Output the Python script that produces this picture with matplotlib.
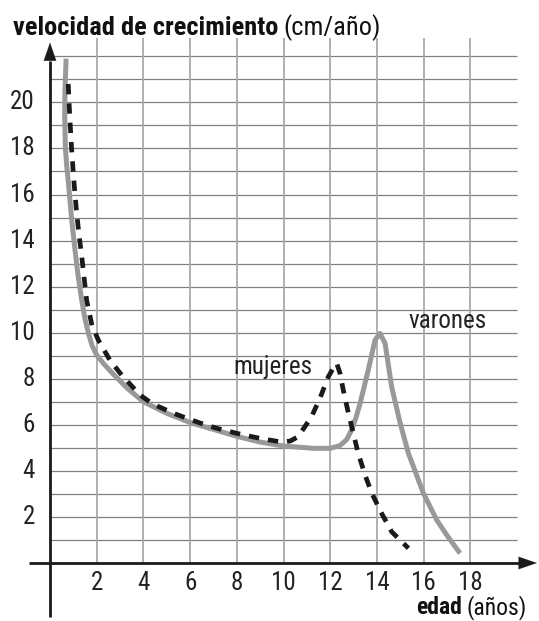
import numpy as np
import matplotlib.pyplot as plt

plt.rcParams['font.family'] = ['DejaVu Sans Condensed', 'Roboto Condensed',
                               'Open Sans Condensed', 'DejaVu Sans']

# Growth velocity (cm/year) against age (years)
varones_edad = [0.69, 0.64, 0.63, 0.66, 0.72, 0.79, 0.92, 1.07, 1.2, 1.36, 1.5, 1.64,
                1.8, 2.0, 2.3, 2.71, 3.3, 4.0, 5.0, 6.0, 7.0, 8.0, 9.0, 10.0,
                11.28, 12.0, 12.42, 12.7, 12.92, 13.1, 13.28, 13.63, 13.92, 14.13,
                14.35, 14.63, 14.99, 15.35, 15.56, 15.99, 16.3, 16.56, 17.0, 17.56]
varones_vel = [21.9, 20.5, 19.4, 18.0, 17.2, 16.5, 15.0, 13.6, 12.5, 11.4, 10.6, 10.0,
               9.45, 9.03, 8.65, 8.2, 7.6, 7.0, 6.5, 6.1, 5.8, 5.5, 5.25, 5.08,
               4.98, 4.98, 5.1, 5.35, 5.78, 6.3, 6.93, 8.38, 9.68, 9.97,
               9.54, 7.66, 6.1, 4.76, 4.2, 3.03, 2.4, 1.87, 1.2, 0.42]

mujeres_edad = [0.78, 0.85, 0.93, 1.03, 1.14, 1.25, 1.36, 1.57, 1.8, 2.07, 2.57, 3.07,
                3.85, 4.4, 5.42, 6.42, 7.14, 8.0, 9.0, 9.92, 10.3, 10.63, 11.2, 11.56,
                11.92, 12.15, 12.28, 12.42, 12.56, 12.78, 12.99, 13.2, 13.5, 13.78,
                14.2, 14.63, 15.35]
mujeres_vel = [20.8, 19.3, 17.9, 16.5, 15.2, 14.2, 13.3, 11.4, 10.3, 9.68, 8.8, 8.16,
               7.3, 6.9, 6.45, 6.08, 5.85, 5.63, 5.41, 5.25, 5.3, 5.49, 6.35, 7.15,
               8.09, 8.5, 8.67, 8.24, 7.51, 6.5, 5.63, 4.76, 3.8, 3.03,
               2.16, 1.36, 0.64]

x_ticks = [2, 4, 6, 8, 10, 12, 14, 16, 18]
y_ticks = [2, 4, 6, 8, 10, 12, 14, 16, 18, 20]
grid_x = [2, 4, 6, 8, 10, 12, 14, 16, 18]
grid_y = list(range(1, 23))

W, H = 539, 621
fig = plt.figure(figsize=(W / 100, H / 100), dpi=100)
ax = fig.add_axes([0, 0, 1, 1])

# pixel layout: origin at (50, 563) from top-left, 23.35 px per year, 23.03 px per cm/year
px_x, px_y = 23.35, 23.03
ax.set_xlim(-50 / px_x, (W - 50) / px_x)
ax.set_ylim(-(H - 563) / px_y, 563 / px_y)

# grid
ax.hlines(grid_y, 0, 20, color='#808080', lw=0.9, zorder=1)
ax.vlines(grid_x, 0, 22.8, color='#aaaaaa', lw=1.3, zorder=1)

# axes with arrows
ax.plot([-0.9, 20.3], [0, 0], color='#1a1a1a', lw=2.0, zorder=3, solid_capstyle='butt')
ax.plot([0, 0], [-2.35, 21.8], color='#1a1a1a', lw=2.0, zorder=3, solid_capstyle='butt')
ax.annotate('', xy=(20.85, 0), xytext=(20.0, 0),
            arrowprops=dict(arrowstyle='-|>,head_length=1.3,head_width=0.45',
                            color='#1a1a1a', lw=0.1, shrinkA=0, shrinkB=0), zorder=4)
ax.annotate('', xy=(0, 22.6), xytext=(0, 21.6),
            arrowprops=dict(arrowstyle='-|>,head_length=1.3,head_width=0.45',
                            color='#1a1a1a', lw=0.1, shrinkA=0, shrinkB=0), zorder=4)

# curves
ax.plot(varones_edad, varones_vel, color='#999999', lw=3.6, zorder=5,
        solid_capstyle='butt', solid_joinstyle='round')
line, = ax.plot(mujeres_edad, mujeres_vel, color='#1a1a1a', lw=3.4, zorder=6,
                dash_capstyle='butt')
line.set_dashes((2.2, 1.9))

# tick labels
for t in x_ticks:
    ax.text(t, -0.87, str(t), ha='center', va='center', fontsize=18, color='#222222')
for t in y_ticks:
    ax.text(-0.64, t, str(t), ha='right', va='center', fontsize=18, color='#222222')

ax.text(7.85, 8.5, 'mujeres', ha='left', va='center', fontsize=18, color='#222222')
ax.text(15.35, 10.5, 'varones', ha='left', va='center', fontsize=18, color='#222222')

# titles: bold part followed by a regular part
renderer = fig.canvas.get_renderer()

t1 = fig.text(13 / W, 1 - 35 / H, 'velocidad de crecimiento', fontsize=19,
              fontweight='bold', ha='left', va='baseline', color='#111111')
x1 = t1.get_window_extent(renderer).x1
fig.text((x1 + 5) / W, 1 - 35 / H, '(cm/año)', fontsize=19, ha='left',
         va='baseline', color='#111111')

t2 = fig.text(527 / W, 1 - 614 / H, '(años)', fontsize=17, ha='right',
              va='baseline', color='#111111')
x0 = t2.get_window_extent(renderer).x0
fig.text((x0 - 5) / W, 1 - 614 / H, 'edad', fontsize=17, fontweight='bold',
         ha='right', va='baseline', color='#111111')

ax.axis('off')
fig.savefig('out.png', dpi=100)
